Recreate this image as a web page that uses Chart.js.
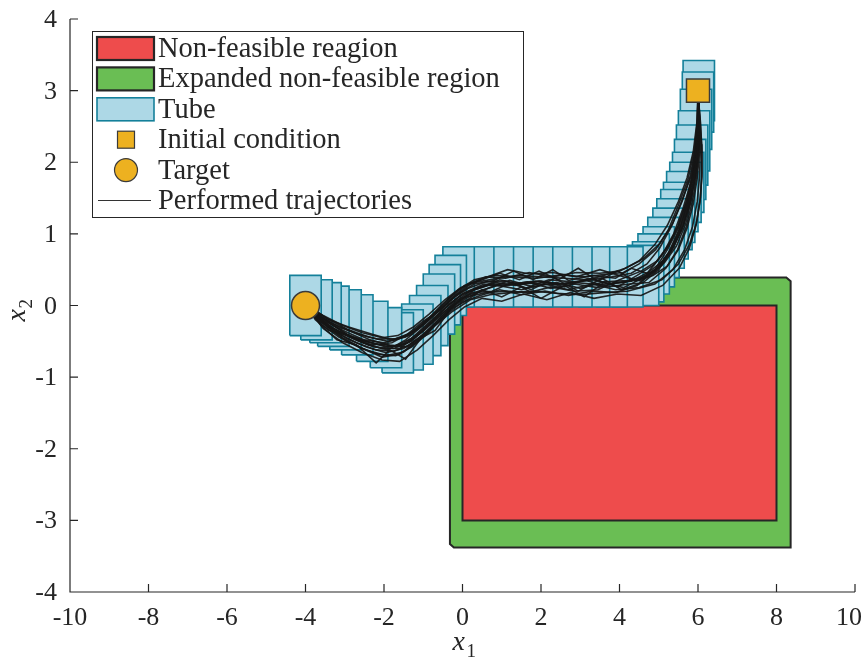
<!DOCTYPE html>
<html>
<head>
<meta charset="utf-8">
<script src="https://cdn.jsdelivr.net/npm/chart.js@4.4.0/dist/chart.umd.min.js"></script>
<style>
  html, body { margin: 0; padding: 0; background: #fff; }
  #wrap { width: 864px; height: 661px; }
</style>
</head>
<body>
<div id="wrap"><canvas id="chart" width="864" height="661"></canvas></div>
<script>
// ---- axis ticks ----
const xTicks = [-10, -8, -6, -4, -2, 0, 2, 4, 6, 8, 10];
const yTicks = [-4, -3, -2, -1, 0, 1, 2, 3, 4];

// ---- regions ----
const redX = [0, 8, 8, 0, 0];
const redY = [0, 0, -3, -3, 0];
const greenX = [-0.32, 8.25, 8.36, 8.36, -0.22, -0.32, -0.32];
const greenY = [0.39, 0.39, 0.34, -3.38, -3.38, -3.33, 0.39];

// ---- tube (box centers, from start to target) ----
const tubeX = [6.02, 6.00, 5.95, 5.90, 5.85, 5.80, 5.75, 5.68, 5.60, 5.52, 5.45, 5.35, 5.25, 5.12,
  5.00, 4.87, 4.73, 4.60, 4.20, 3.80, 3.35, 2.90, 2.40, 1.90, 1.40, 0.90, 0.40, -0.10, -0.30,
  -0.45, -0.60, -0.77, -0.95, -1.15, -1.40, -1.65, -1.95, -2.30, -2.68, -2.98, -3.29, -3.49, -3.72, -4.00];
const tubeY = [3.00, 2.84, 2.60, 2.30, 2.10, 1.90, 1.72, 1.58, 1.45, 1.30, 1.20, 1.07, 0.94, 0.81,
  0.68, 0.58, 0.47, 0.42, 0.40, 0.40, 0.40, 0.40, 0.40, 0.40, 0.40, 0.40, 0.40, 0.40, 0.28,
  0.15, 0.02, -0.14, -0.28, -0.40, -0.48, -0.52, -0.45, -0.36, -0.27, -0.20, -0.15, -0.10, -0.06, 0.00];
const tubeHalfW = 0.40;
const tubeHalfH = 0.42;

// ---- start / target ----
const initialCondition = [6, 3];
const target = [-4, 0];

// ---- performed trajectories ----
const trajectories = [
  [[6.00,2.95],[6.00,2.60],[5.95,2.20],[5.82,1.80],[5.58,1.45],[5.32,1.10],[5.02,0.80],[4.70,0.58],[4.30,0.45],[3.80,0.40],[3.20,0.36],[2.60,0.38],[2.00,0.40],[1.40,0.42],[0.90,0.38],[0.40,0.33],[-0.05,0.25],[-0.45,0.08],[-0.85,-0.12],[-1.25,-0.30],[-1.65,-0.42],[-2.05,-0.45],[-2.55,-0.38],[-3.05,-0.28],[-3.55,-0.14],[-4.00,0.00]],
  [[6.00,2.95],[6.04,2.60],[6.06,2.20],[6.04,1.80],[5.98,1.45],[5.86,1.10],[5.66,0.78],[5.36,0.50],[4.90,0.30],[4.20,0.20],[3.60,0.18],[3.00,0.15],[2.40,0.17],[1.80,0.20],[1.20,0.18],[0.70,0.15],[0.20,0.08],[-0.25,-0.08],[-0.70,-0.28],[-1.10,-0.48],[-1.50,-0.65],[-1.95,-0.70],[-2.45,-0.62],[-2.95,-0.50],[-3.45,-0.30],[-4.00,0.00]],
  [[6.00,2.95],[6.01,2.55],[5.98,2.15],[5.90,1.75],[5.75,1.40],[5.55,1.05],[5.28,0.75],[4.95,0.52],[4.50,0.36],[3.95,0.32],[3.45,0.25],[2.85,0.30],[2.25,0.24],[1.65,0.33],[1.05,0.27],[0.55,0.30],[0.05,0.18],[-0.35,0.02],[-0.75,-0.20],[-1.15,-0.40],[-1.55,-0.55],[-1.95,-0.58],[-2.45,-0.50],[-2.95,-0.40],[-3.45,-0.22],[-4.00,0.00]],
  [[6.00,2.95],[6.03,2.62],[6.02,2.25],[5.95,1.85],[5.82,1.50],[5.65,1.15],[5.40,0.85],[5.10,0.62],[4.70,0.45],[4.30,0.52],[3.90,0.38],[3.30,0.42],[2.70,0.35],[2.30,0.50],[1.80,0.36],[1.30,0.48],[0.80,0.35],[0.30,0.30],[-0.15,0.15],[-0.55,-0.05],[-0.95,-0.25],[-1.35,-0.42],[-1.80,-0.48],[-2.30,-0.40],[-2.90,-0.30],[-3.40,-0.20],[-3.80,-0.05],[-4.00,0.00]],
  [[6.00,2.95],[6.00,2.58],[5.97,2.18],[5.88,1.78],[5.72,1.42],[5.50,1.08],[5.22,0.78],[4.90,0.50],[4.45,0.28],[3.90,0.18],[3.30,0.20],[2.70,0.14],[2.10,0.20],[1.50,0.15],[0.95,0.22],[0.45,0.14],[0.00,0.05],[-0.40,-0.12],[-0.80,-0.32],[-1.20,-0.52],[-1.60,-0.68],[-2.05,-0.72],[-2.55,-0.60],[-3.05,-0.45],[-3.55,-0.25],[-4.00,0.00]],
  [[6.00,2.95],[5.98,2.55],[5.90,2.15],[5.74,1.75],[5.50,1.40],[5.24,1.05],[4.92,0.78],[4.50,0.58],[4.10,0.46],[3.70,0.44],[3.10,0.40],[2.50,0.43],[1.90,0.38],[1.30,0.40],[0.80,0.42],[0.30,0.36],[-0.10,0.22],[-0.50,0.02],[-0.90,-0.20],[-1.30,-0.38],[-1.70,-0.46],[-2.15,-0.47],[-2.65,-0.40],[-3.15,-0.30],[-3.60,-0.16],[-4.00,0.00]],
  [[6.00,2.95],[6.05,2.62],[6.09,2.25],[6.10,1.85],[6.06,1.50],[5.96,1.15],[5.78,0.85],[5.50,0.58],[5.08,0.36],[4.50,0.25],[3.90,0.22],[3.30,0.30],[2.70,0.22],[2.10,0.30],[1.50,0.22],[0.90,0.28],[0.40,0.20],[-0.05,0.10],[-0.50,-0.10],[-0.90,-0.30],[-1.30,-0.50],[-1.75,-0.60],[-2.25,-0.58],[-2.75,-0.47],[-3.30,-0.32],[-3.75,-0.12],[-4.00,0.00]],
  [[6.00,2.95],[6.02,2.58],[6.01,2.20],[5.94,1.82],[5.80,1.48],[5.62,1.12],[5.38,0.82],[5.08,0.56],[4.65,0.40],[4.10,0.25],[3.60,0.32],[3.10,0.12],[2.60,0.28],[2.00,0.10],[1.50,0.26],[1.00,0.12],[0.50,0.22],[0.05,0.05],[-0.30,-0.05],[-0.70,-0.35],[-1.05,-0.45],[-1.45,-0.75],[-1.85,-0.62],[-2.20,-0.80],[-2.70,-0.55],[-3.20,-0.48],[-3.60,-0.28],[-4.00,0.00]],
  [[6.00,2.95],[6.00,2.62],[5.99,2.22],[5.93,1.83],[5.83,1.47],[5.68,1.13],[5.45,0.83],[5.15,0.60],[4.75,0.42],[4.20,0.35],[3.60,0.33],[3.00,0.24],[2.40,0.32],[1.80,0.26],[1.20,0.35],[0.70,0.25],[0.25,0.15],[-0.20,0.00],[-0.60,-0.22],[-1.00,-0.42],[-1.40,-0.58],[-1.85,-0.56],[-2.35,-0.48],[-2.85,-0.36],[-3.35,-0.24],[-3.80,-0.08],[-4.00,0.00]],
  [[6.00,2.95],[6.01,2.57],[5.96,2.17],[5.86,1.77],[5.70,1.43],[5.48,1.09],[5.20,0.79],[4.88,0.57],[4.45,0.42],[3.95,0.26],[3.40,0.36],[2.80,0.33],[2.20,0.36],[1.60,0.24],[1.10,0.34],[0.60,0.33],[0.15,0.24],[-0.25,0.10],[-0.65,-0.10],[-1.05,-0.30],[-1.45,-0.48],[-1.90,-0.62],[-2.40,-0.55],[-2.90,-0.42],[-3.40,-0.35],[-3.75,-0.20],[-4.05,0.08],[-3.95,0.12],[-4.00,0.00]],
  [[6.00,2.95],[6.03,2.56],[6.00,2.16],[5.90,1.76],[5.74,1.41],[5.52,1.06],[5.25,0.74],[4.92,0.48],[4.55,0.34],[4.10,0.40],[3.50,0.50],[2.90,0.40],[2.30,0.46],[1.70,0.44],[1.15,0.50],[0.65,0.40],[0.20,0.30],[-0.20,0.12],[-0.60,-0.08],[-1.00,-0.22],[-1.40,-0.40],[-1.80,-0.52],[-2.30,-0.55],[-2.80,-0.45],[-3.30,-0.28],[-3.70,-0.12],[-4.00,0.00]],
  [[6.00,2.95],[5.99,2.60],[5.94,2.20],[5.84,1.80],[5.70,1.45],[5.50,1.12],[5.25,0.84],[4.95,0.62],[4.55,0.48],[4.00,0.36],[3.45,0.22],[2.85,0.20],[2.25,0.26],[1.70,0.18],[1.10,0.20],[0.60,0.18],[0.10,0.12],[-0.30,-0.02],[-0.70,-0.25],[-1.10,-0.45],[-1.50,-0.60],[-1.95,-0.66],[-2.45,-0.58],[-2.95,-0.46],[-3.45,-0.28],[-3.85,-0.10],[-4.00,0.00]],
  [[6.00,2.95],[6.02,2.63],[6.03,2.23],[5.97,1.83],[5.86,1.46],[5.70,1.10],[5.48,0.78],[5.18,0.52],[4.75,0.32],[4.25,0.30],[3.70,0.26],[3.15,0.35],[2.55,0.30],[1.95,0.34],[1.35,0.28],[0.85,0.32],[0.35,0.24],[-0.10,0.12],[-0.50,-0.06],[-0.90,-0.26],[-1.30,-0.46],[-1.70,-0.56],[-2.15,-0.54],[-2.65,-0.47],[-3.15,-0.37],[-3.60,-0.20],[-4.00,0.00]],
  [[6.00,2.95],[6.00,2.59],[5.96,2.19],[5.87,1.79],[5.73,1.44],[5.55,1.09],[5.30,0.77],[5.00,0.50],[4.60,0.32],[4.05,0.22],[3.55,0.38],[2.95,0.20],[2.35,0.38],[1.75,0.22],[1.25,0.32],[0.75,0.20],[0.25,0.18],[-0.15,0.04],[-0.55,-0.16],[-0.95,-0.38],[-1.35,-0.55],[-1.75,-0.64],[-2.20,-0.62],[-2.70,-0.52],[-3.20,-0.38],[-3.65,-0.22],[-4.00,0.00]],
  [[6.00,2.95],[5.97,2.55],[5.88,2.15],[5.72,1.78],[5.50,1.45],[5.22,1.12],[4.90,0.85],[4.50,0.62],[4.00,0.48],[3.50,0.45],[2.90,0.46],[2.30,0.40],[1.70,0.46],[1.10,0.38],[0.60,0.40],[0.15,0.30],[-0.25,0.12],[-0.65,-0.08],[-1.05,-0.28],[-1.45,-0.44],[-1.90,-0.50],[-2.40,-0.44],[-2.90,-0.34],[-3.40,-0.20],[-3.80,-0.06],[-4.00,0.00]],
  [[6.00,2.95],[6.06,2.58],[6.10,2.18],[6.10,1.80],[6.05,1.45],[5.95,1.12],[5.78,0.80],[5.52,0.52],[5.10,0.28],[4.55,0.14],[3.95,0.16],[3.35,0.10],[2.75,0.18],[2.15,0.08],[1.55,0.16],[1.00,0.06],[0.50,0.10],[0.05,-0.02],[-0.35,-0.20],[-0.75,-0.42],[-1.15,-0.62],[-1.60,-0.78],[-2.05,-0.76],[-2.55,-0.66],[-3.05,-0.52],[-3.55,-0.32],[-4.00,0.00]],
  [[6.00,2.95],[6.02,2.52],[5.96,2.12],[5.82,1.72],[5.62,1.36],[5.38,1.00],[5.08,0.70],[4.72,0.46],[4.30,0.34],[3.75,0.30],[3.20,0.38],[2.60,0.26],[2.00,0.34],[1.45,0.30],[0.95,0.36],[0.45,0.26],[0.00,0.16],[-0.40,-0.02],[-0.80,-0.24],[-1.20,-0.44],[-1.60,-0.60],[-2.05,-0.60],[-2.55,-0.52],[-3.05,-0.40],[-3.55,-0.24],[-4.00,0.00]],
  [[6.00,2.95],[6.04,2.55],[6.04,2.15],[5.98,1.78],[5.88,1.42],[5.72,1.08],[5.50,0.78],[5.22,0.55],[4.85,0.42],[4.40,0.34],[3.95,0.48],[3.45,0.34],[2.95,0.52],[2.45,0.36],[1.95,0.48],[1.45,0.36],[0.95,0.45],[0.50,0.36],[0.05,0.28],[-0.35,0.10],[-0.75,-0.12],[-1.15,-0.32],[-1.55,-0.45],[-2.00,-0.52],[-2.50,-0.48],[-3.00,-0.36],[-3.50,-0.22],[-3.90,-0.06],[-4.00,0.00]],
  [[6.00,2.95],[5.99,2.58],[5.93,2.18],[5.80,1.80],[5.60,1.46],[5.35,1.14],[5.02,0.86],[4.62,0.66],[4.15,0.52],[3.60,0.42],[3.05,0.34],[2.45,0.30],[1.85,0.34],[1.25,0.30],[0.75,0.30],[0.30,0.22],[-0.10,0.06],[-0.50,-0.16],[-0.90,-0.40],[-1.30,-0.58],[-1.70,-0.70],[-2.15,-0.68],[-2.65,-0.58],[-3.15,-0.44],[-3.60,-0.26],[-4.00,0.00]],
  [[6.00,2.95],[6.01,2.60],[6.00,2.21],[5.93,1.81],[5.80,1.43],[5.60,1.07],[5.32,0.76],[4.98,0.52],[4.55,0.38],[4.05,0.32],[3.50,0.29],[2.90,0.32],[2.30,0.29],[1.70,0.31],[1.15,0.29],[0.65,0.28],[0.20,0.20],[-0.20,0.05],[-0.60,-0.16],[-1.00,-0.36],[-1.40,-0.52],[-1.85,-0.58],[-2.35,-0.52],[-2.85,-0.44],[-3.35,-0.30],[-3.75,-0.14],[-4.10,0.12],[-4.05,0.18],[-3.95,0.10],[-4.00,0.00]]
];

const legendLabels = ['Non-feasible reagion', 'Expanded non-feasible region', 'Tube',
  'Initial condition', 'Target', 'Performed trajectories'];

const RED = '#ee4c4c';
const GREEN = '#6abe54';
const TUBE_FILL = '#add8e6';
const TUBE_EDGE = '#14809a';
const MARKER = '#edb120';
const DARK = '#262626';
const FONT = '"Liberation Serif", "Times New Roman", serif';

function toPoints(xs, ys) {
  return xs.map((x, i) => ({ x: x, y: ys[i] }));
}

function boxPoints(cx, cy) {
  return [
    { x: cx - tubeHalfW, y: cy - tubeHalfH },
    { x: cx + tubeHalfW, y: cy - tubeHalfH },
    { x: cx + tubeHalfW, y: cy + tubeHalfH },
    { x: cx - tubeHalfW, y: cy + tubeHalfH },
    { x: cx - tubeHalfW, y: cy - tubeHalfH }
  ];
}

// datasets: first in list is drawn on top
const datasets = [];

datasets.push({
  data: [{ x: initialCondition[0], y: initialCondition[1] }],
  showLine: false,
  pointStyle: 'rect',
  pointRadius: 16.3,
  backgroundColor: MARKER,
  borderColor: '#3a3a3a',
  pointBorderWidth: 1.5
});
datasets.push({
  data: [{ x: target[0], y: target[1] }],
  showLine: false,
  pointStyle: 'circle',
  pointRadius: 14,
  backgroundColor: MARKER,
  borderColor: '#3a3a3a',
  pointBorderWidth: 1.5
});

trajectories.forEach(tr => {
  datasets.push({
    data: tr.map(p => ({ x: p[0], y: p[1] })),
    borderColor: 'rgba(22,22,22,0.92)',
    borderWidth: 1.6,
    pointRadius: 0,
    fill: false,
    tension: 0
  });
});

// boxes closer to the target lie on top
for (let i = tubeX.length - 1; i >= 0; i--) {
  datasets.push({
    data: boxPoints(tubeX[i], tubeY[i]),
    borderColor: TUBE_EDGE,
    backgroundColor: TUBE_FILL,
    borderWidth: 1.6,
    pointRadius: 0,
    fill: 'shape',
    tension: 0
  });
}

datasets.push({
  data: toPoints(redX, redY),
  borderColor: DARK,
  backgroundColor: RED,
  borderWidth: 2,
  pointRadius: 0,
  fill: 'shape',
  tension: 0
});
datasets.push({
  data: toPoints(greenX, greenY),
  borderColor: DARK,
  backgroundColor: GREEN,
  borderWidth: 2,
  pointRadius: 0,
  fill: 'shape',
  tension: 0
});

// axes, inward ticks, tick labels, titles and legend
const decorPlugin = {
  id: 'decor',
  afterDraw(chart) {
    const ctx = chart.ctx;
    const a = chart.chartArea;
    const xs = chart.scales.x, ys = chart.scales.y;
    ctx.save();
    ctx.strokeStyle = DARK;
    ctx.lineWidth = 1.2;
    ctx.beginPath();
    ctx.moveTo(a.left, a.top);
    ctx.lineTo(a.left, a.bottom);
    ctx.lineTo(a.right, a.bottom);
    xTicks.forEach(v => {
      const px = xs.getPixelForValue(v);
      ctx.moveTo(px, a.bottom);
      ctx.lineTo(px, a.bottom - 8);
    });
    yTicks.forEach(v => {
      const py = ys.getPixelForValue(v);
      ctx.moveTo(a.left, py);
      ctx.lineTo(a.left + 8, py);
    });
    ctx.stroke();

    // tick labels (last one kept inside the canvas)
    ctx.fillStyle = DARK;
    ctx.font = '26px ' + FONT;
    ctx.textBaseline = 'alphabetic';
    ctx.textAlign = 'center';
    xTicks.forEach(v => {
      const px = Math.min(xs.getPixelForValue(v), chart.width - 15);
      ctx.fillText(String(v), px, a.bottom + 33);
    });
    ctx.textAlign = 'right';
    yTicks.forEach(v => {
      ctx.fillText(String(v), a.left - 13, ys.getPixelForValue(v) + 8);
    });

    // axis titles
    ctx.textAlign = 'left';
    const midX = xs.getPixelForValue(0);
    ctx.font = 'italic 28px ' + FONT;
    ctx.fillText('x', midX - 10, 650);
    ctx.font = '19px ' + FONT;
    ctx.fillText('1', midX + 4, 657);

    const midY = ys.getPixelForValue(0);
    ctx.save();
    ctx.translate(25, midY + 16);
    ctx.rotate(-Math.PI / 2);
    ctx.font = 'italic 28px ' + FONT;
    ctx.fillText('x', 0, 0);
    ctx.font = '19px ' + FONT;
    ctx.fillText('2', 13, 7);
    ctx.restore();

    // legend
    const L = { x: 92, y: 31, w: 431, h: 186 };
    ctx.fillStyle = '#fff';
    ctx.fillRect(L.x, L.y, L.w, L.h);
    ctx.strokeStyle = DARK;
    ctx.lineWidth = 1;
    ctx.strokeRect(L.x + 0.5, L.y + 0.5, L.w, L.h);

    const rowH = 30.4;
    const row0 = 48.5;
    const px0 = 97, pw = 57, ph = 23;
    legendLabels.forEach((lab, i) => {
      const cy = row0 + i * rowH;
      if (i < 3) {
        ctx.fillStyle = [RED, GREEN, TUBE_FILL][i];
        ctx.fillRect(px0, cy - ph / 2, pw, ph);
        ctx.strokeStyle = i < 2 ? DARK : TUBE_EDGE;
        ctx.lineWidth = i < 2 ? 2.2 : 1.6;
        ctx.strokeRect(px0, cy - ph / 2, pw, ph);
      } else if (i === 3) {
        ctx.fillStyle = MARKER;
        ctx.fillRect(117.5, cy - 8.5, 17, 17);
        ctx.strokeStyle = '#3a3a3a';
        ctx.lineWidth = 1.2;
        ctx.strokeRect(117.5, cy - 8.5, 17, 17);
      } else if (i === 4) {
        ctx.beginPath();
        ctx.arc(126, cy, 11.5, 0, Math.PI * 2);
        ctx.fillStyle = MARKER;
        ctx.fill();
        ctx.strokeStyle = '#3a3a3a';
        ctx.lineWidth = 1.2;
        ctx.stroke();
      } else {
        ctx.beginPath();
        ctx.moveTo(98, cy);
        ctx.lineTo(151, cy);
        ctx.strokeStyle = '#333';
        ctx.lineWidth = 1.1;
        ctx.stroke();
      }
      ctx.fillStyle = DARK;
      ctx.font = '28.5px ' + FONT;
      ctx.textBaseline = 'middle';
      ctx.textAlign = 'left';
      ctx.fillText(lab, 158, cy + 1);
    });
    ctx.restore();
  }
};

new Chart(document.getElementById('chart'), {
  type: 'line',
  data: { datasets: datasets },
  options: {
    responsive: false,
    animation: false,
    events: [],
    devicePixelRatio: 1,
    layout: { autoPadding: false, padding: { left: 0, right: 9, top: 19, bottom: 0 } },
    plugins: { legend: { display: false }, tooltip: { enabled: false } },
    scales: {
      x: {
        type: 'linear',
        min: -10,
        max: 10,
        afterBuildTicks(s) { s.ticks = xTicks.map(v => ({ value: v })); },
        afterFit(s) { s.height = 69; },
        grid: { display: false, drawTicks: false },
        border: { display: false },
        ticks: { display: false }
      },
      y: {
        type: 'linear',
        min: -4,
        max: 4,
        afterBuildTicks(s) { s.ticks = yTicks.map(v => ({ value: v })); },
        afterFit(s) { s.width = 70; },
        grid: { display: false, drawTicks: false },
        border: { display: false },
        ticks: { display: false }
      }
    }
  },
  plugins: [decorPlugin]
});
</script>
</body>
</html>
